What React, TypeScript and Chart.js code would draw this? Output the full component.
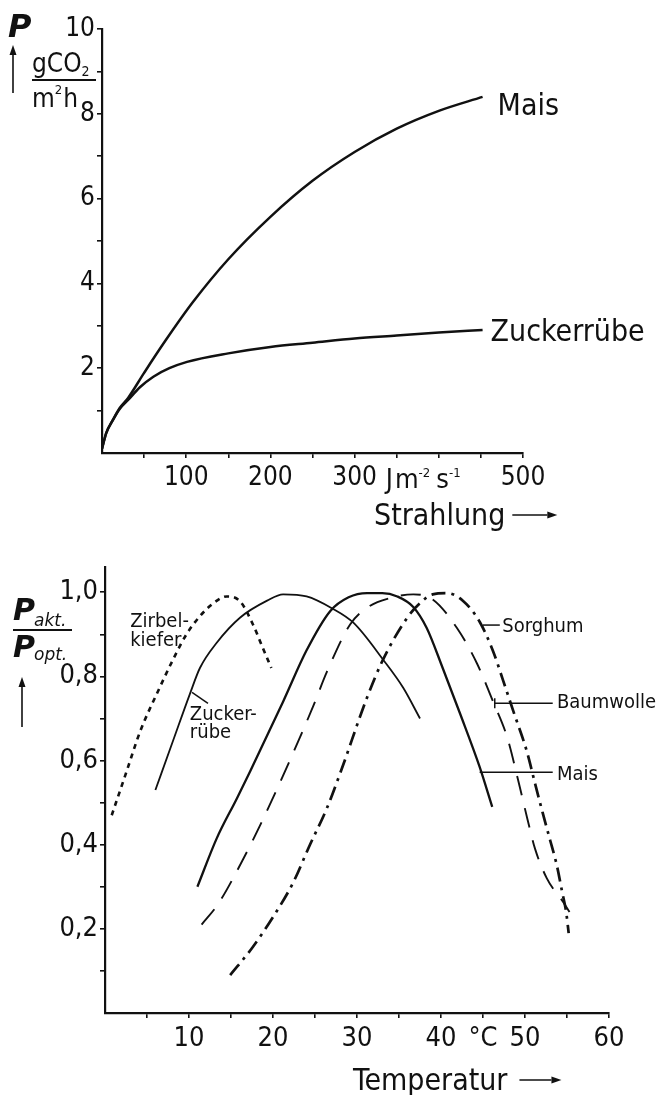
import React, { useEffect, useRef } from 'react';
import { Chart, registerables } from 'chart.js';

Chart.register(...registerables);

const WORD_FONT = '"DejaVu Sans Condensed", "DejaVu Sans", sans-serif';
const NUM_FONT = '"Liberation Sans Narrow", "DejaVu Sans Condensed", sans-serif';
const INK = '#111';

// ---------- Top chart: P vs Strahlung ----------
const strahlungMais = [0, 5, 13, 21, 31, 50, 75, 108, 150, 200, 250, 300, 350, 400, 452];
const pMais = [0.1, 0.47, 0.78, 1.06, 1.3, 1.89, 2.64, 3.56, 4.57, 5.57, 6.42, 7.1, 7.65, 8.07, 8.4];
const strahlungZucker = [0, 5, 13, 21, 31, 45, 61, 80, 101, 150, 200, 250, 300, 350, 400, 452];
const pZucker = [0.1, 0.47, 0.78, 1.04, 1.25, 1.55, 1.8, 2.0, 2.15, 2.35, 2.5, 2.6, 2.7, 2.77, 2.84, 2.9];
const strahlungTicks = [100, 200, 300, 500];
const pTicks = [2, 4, 6, 8, 10];

// ---------- Bottom chart: Pakt/Popt vs Temperatur ----------
const tZirbel = [0.8, 2.6, 4.2, 6.2, 8.1, 9.7, 11.3, 12.9, 14.5, 16.1, 17.6, 18.8, 19.8];
const vZirbel = [0.47, 0.576, 0.67, 0.76, 0.84, 0.9, 0.943, 0.974, 0.99, 0.978, 0.924, 0.867, 0.82];
const tZucker = [6.0, 8.1, 10.1, 11.3, 13.3, 16.1, 19.3, 21.2, 24, 27, 29.6, 33.1, 35.5, 37.5];
const vZucker = [0.53, 0.647, 0.758, 0.82, 0.88, 0.94, 0.98, 0.995, 0.99, 0.962, 0.927, 0.84, 0.773, 0.7];
const tMais = [11, 13.3, 15.7, 17.3, 21.2, 24, 26.8, 29, 31.2, 33, 34.8, 36.7, 38.3, 40.2, 42.3, 44.6, 46.1];
const vMais = [0.3, 0.415, 0.51, 0.575, 0.74, 0.862, 0.955, 0.988, 0.998, 0.998, 0.99, 0.965, 0.915, 0.82, 0.71, 0.585, 0.49];
const tBaumwolle = [11.5, 13.5, 16.3, 18.8, 22, 24.8, 26.4, 29.2, 31.5, 33.9, 36.7, 39, 41.9, 44.3, 46.2, 47.9, 49.2, 50.3, 51.2, 52.6, 54.5, 55.3];
const vBaumwolle = [0.21, 0.26, 0.36, 0.46, 0.6, 0.73, 0.81, 0.924, 0.967, 0.986, 0.995, 0.983, 0.915, 0.83, 0.74, 0.654, 0.552, 0.46, 0.39, 0.32, 0.265, 0.24];
const tSorghum = [14.9, 17.6, 20, 22.4, 24.4, 26.4, 28, 31.2, 33.1, 36, 37.5, 39, 40.7, 42.6, 44.6, 46.2, 47.4, 48.6, 50.2, 51.2, 52.1, 53, 53.8, 54.4, 54.9, 55.2];
const vSorghum = [0.09, 0.157, 0.228, 0.31, 0.4, 0.486, 0.57, 0.75, 0.84, 0.94, 0.974, 0.995, 0.998, 0.98, 0.93, 0.86, 0.79, 0.718, 0.623, 0.545, 0.476, 0.41, 0.35, 0.29, 0.24, 0.19];
const tempTicks = [10, 20, 30, 40, 50, 60];
const relTicks = [2, 4, 6, 8, 10]; // tenths

const pts = (xs: number[], ys: number[]) => xs.map((x, i) => ({ x, y: ys[i] }));

const fixY = (w: number) => (s: any) => { s.width = w; s.paddingTop = 0; s.paddingBottom = 0; };
const fixX = (h: number) => (s: any) => { s.height = h; s.paddingLeft = 0; s.paddingRight = 0; };

const tickGrid = {
  drawOnChartArea: false,
  drawTicks: true,
  tickLength: 5,
  lineWidth: 1.6,
  color: (c: any) => (c.tick && c.tick.value === 0 ? 'rgba(0,0,0,0)' : INK),
};
const axisBorder = { display: true, color: INK, width: 2.2 };

function line(ctx: CanvasRenderingContext2D, x1: number, y1: number, x2: number, y2: number, w = 1.6) {
  ctx.save();
  ctx.strokeStyle = INK;
  ctx.lineWidth = w;
  ctx.beginPath();
  ctx.moveTo(x1, y1);
  ctx.lineTo(x2, y2);
  ctx.stroke();
  ctx.restore();
}

function arrow(ctx: CanvasRenderingContext2D, x1: number, y1: number, x2: number, y2: number) {
  const a = Math.atan2(y2 - y1, x2 - x1);
  const hl = 10, hw = 3.5;
  const bx = x2 - hl * Math.cos(a), by = y2 - hl * Math.sin(a);
  line(ctx, x1, y1, bx, by, 1.6);
  ctx.save();
  ctx.fillStyle = INK;
  ctx.beginPath();
  ctx.moveTo(x2, y2);
  ctx.lineTo(bx + hw * Math.sin(a), by - hw * Math.cos(a));
  ctx.lineTo(bx - hw * Math.sin(a), by + hw * Math.cos(a));
  ctx.closePath();
  ctx.fill();
  ctx.restore();
}

function txt(ctx: CanvasRenderingContext2D, s: string, x: number, y: number, font: string) {
  ctx.font = font;
  ctx.fillStyle = INK;
  ctx.textAlign = 'left';
  ctx.textBaseline = 'alphabetic';
  ctx.fillText(s, x, y);
  return x + ctx.measureText(s).width;
}

const topPlugin = {
  id: 'topLabels',
  afterDraw(chart: any) {
    const ctx: CanvasRenderingContext2D = chart.ctx;
    const xs = chart.scales.x, ys = chart.scales.y;
    ctx.save();
    // series labels
    const mEnd = { x: xs.getPixelForValue(strahlungMais[strahlungMais.length - 1]), y: ys.getPixelForValue(pMais[pMais.length - 1]) };
    txt(ctx, 'Mais', mEnd.x + 15, mEnd.y + 18, `30px ${WORD_FONT}`);
    const zEnd = { x: xs.getPixelForValue(strahlungZucker[strahlungZucker.length - 1]), y: ys.getPixelForValue(pZucker[pZucker.length - 1]) };
    txt(ctx, 'Zuckerrübe', zEnd.x + 8, zEnd.y + 11, `30px ${WORD_FONT}`);
    // unit in place of 400
    const ux = xs.getPixelForValue(400) - 53;
    const uy = 488;
    let cx = txt(ctx, 'J', ux, uy, `27px ${WORD_FONT}`);
    cx = txt(ctx, 'm', cx + 2, uy, `27px ${WORD_FONT}`);
    cx = txt(ctx, '-2', cx, uy - 11, `13px ${WORD_FONT}`);
    cx = txt(ctx, 's', cx + 6, uy, `27px ${WORD_FONT}`);
    txt(ctx, '-1', cx, uy - 11, `13px ${WORD_FONT}`);
    // y-axis title
    txt(ctx, 'P', 8, 37, `italic bold 32px "DejaVu Sans", sans-serif`);
    arrow(ctx, 13, 93, 13, 45);
    let gx = txt(ctx, 'gCO', 32, 72, `26px ${WORD_FONT}`);
    txt(ctx, '2', gx, 76, `14px ${WORD_FONT}`);
    line(ctx, 32, 80, 96, 80, 2);
    let mx = txt(ctx, 'm', 32, 107, `26px ${WORD_FONT}`);
    mx = txt(ctx, '2', mx, 94, `13px ${WORD_FONT}`);
    txt(ctx, 'h', mx + 1, 107, `26px ${WORD_FONT}`);
    // x-axis title
    const sx = txt(ctx, 'Strahlung', 374, 525, `30px ${WORD_FONT}`);
    arrow(ctx, sx + 7, 515, sx + 52, 515);
    ctx.restore();
  },
};

const BOTTOM_TOP = 545;

// annotations for bottom chart in data units [T, v]
const leaderZucker = [[10.36, 0.762], [12.26, 0.736]];
const leaderSorghum = [[45.0, 0.922], [47.0, 0.922]];
const leaderBaumwolle = [[46.4, 0.736], [53.3, 0.736]];
const leaderMais = [[44.6, 0.572], [53.3, 0.572]];

const bottomPlugin = {
  id: 'bottomLabels',
  afterDraw(chart: any) {
    const ctx: CanvasRenderingContext2D = chart.ctx;
    const xs = chart.scales.x, ys = chart.scales.y;
    const X = (t: number) => xs.getPixelForValue(t);
    const Y = (v: number) => ys.getPixelForValue(v);
    const f = `20px ${WORD_FONT}`;
    ctx.save();
    txt(ctx, 'Zirbel-', X(3.0), Y(0.917), f);
    txt(ctx, 'kiefer', X(3.0), Y(0.872), f);
    txt(ctx, 'Zucker-', X(10.1), Y(0.696), f);
    txt(ctx, 'rübe', X(10.1), Y(0.653), f);
    line(ctx, X(leaderZucker[0][0]), Y(leaderZucker[0][1]), X(leaderZucker[1][0]), Y(leaderZucker[1][1]), 1.5);
    line(ctx, X(leaderSorghum[0][0]), Y(leaderSorghum[0][1]), X(leaderSorghum[1][0]), Y(leaderSorghum[1][1]), 1.5);
    txt(ctx, 'Sorghum', X(47.3), Y(0.905), f);
    line(ctx, X(leaderBaumwolle[0][0]), Y(leaderBaumwolle[0][1]), X(leaderBaumwolle[1][0]), Y(leaderBaumwolle[1][1]), 1.5);
    line(ctx, X(leaderBaumwolle[0][0]), Y(leaderBaumwolle[0][1]) - 5, X(leaderBaumwolle[0][0]), Y(leaderBaumwolle[0][1]) + 5, 1.5);
    txt(ctx, 'Baumwolle', X(53.8), Y(0.724), f);
    line(ctx, X(leaderMais[0][0]), Y(leaderMais[0][1]), X(leaderMais[1][0]), Y(leaderMais[1][1]), 1.5);
    txt(ctx, 'Mais', X(53.8), Y(0.553), f);
    // y-axis title (fraction)
    const o = BOTTOM_TOP;
    let px = txt(ctx, 'P', 13, 620 - o, `italic bold 30px "DejaVu Sans", sans-serif`);
    txt(ctx, 'akt.', px - 1, 626 - o, `italic 17px "DejaVu Sans", sans-serif`);
    line(ctx, 13, 630 - o, 72, 630 - o, 2);
    px = txt(ctx, 'P', 13, 657 - o, `italic bold 30px "DejaVu Sans", sans-serif`);
    txt(ctx, 'opt.', px - 1, 660 - o, `italic 17px "DejaVu Sans", sans-serif`);
    arrow(ctx, 22, 727 - o, 22, 677 - o);
    // x-axis title
    const tx = txt(ctx, 'Temperatur', 353, 1090 - o, `30px ${WORD_FONT}`);
    arrow(ctx, tx + 12, 1080 - o, tx + 54, 1080 - o);
    ctx.restore();
  },
};

function ds(xs: number[], ys: number[], width: number, dash: number[]) {
  return {
    data: pts(xs, ys),
    borderColor: INK,
    borderWidth: width,
    borderDash: dash,
    borderCapStyle: 'butt' as const,
    pointRadius: 0,
    fill: false,
    cubicInterpolationMode: 'monotone' as const,
  };
}

export default function App() {
  const topRef = useRef<HTMLCanvasElement>(null);
  const botRef = useRef<HTMLCanvasElement>(null);

  useEffect(() => {
    const top = new Chart(topRef.current!, {
      type: 'line',
      data: {
        datasets: [
          ds(strahlungMais, pMais, 2.5, []),
          ds(strahlungZucker, pZucker, 2.5, []),
        ],
      },
      options: {
        responsive: false,
        animation: false,
        events: [],
        layout: { padding: { left: 0, top: 29, right: 133, bottom: 32 } },
        plugins: { legend: { display: false }, tooltip: { enabled: false }, title: { display: false } },
        scales: {
          x: {
            type: 'linear', min: 0, max: 500,
            afterFit: fixX(60),
            border: axisBorder,
            grid: tickGrid as any,
            ticks: {
              stepSize: 50, autoSkip: false, maxRotation: 0, padding: 5, color: INK,
              font: { family: NUM_FONT, size: 26 },
              callback: (v: any) => (strahlungTicks.includes(Number(v)) ? String(v) : ''),
            },
          },
          y: {
            type: 'linear', min: 0, max: 10,
            afterFit: fixY(102),
            border: axisBorder,
            grid: tickGrid as any,
            ticks: {
              stepSize: 1, autoSkip: false, padding: 2, color: INK,
              font: { family: NUM_FONT, size: 26 },
              callback: (v: any) => (pTicks.includes(Number(v)) ? String(v) : ''),
            },
          },
        },
      },
      plugins: [topPlugin],
    });

    const bot = new Chart(botRef.current!, {
      type: 'line',
      data: {
        datasets: [
          ds(tZirbel, vZirbel, 2.6, [5, 5]),
          ds(tZucker, vZucker, 1.8, []),
          ds(tMais, vMais, 2.3, []),
          ds(tBaumwolle, vBaumwolle, 1.9, [20, 13]),
          ds(tSorghum, vSorghum, 2.7, [14, 6, 3, 6]),
        ],
      },
      options: {
        responsive: false,
        animation: false,
        events: [],
        layout: { padding: { left: 0, top: 22, right: 47, bottom: 22 } },
        plugins: { legend: { display: false }, tooltip: { enabled: false }, title: { display: false } },
        scales: {
          x: {
            type: 'linear', min: 0, max: 60,
            afterFit: fixX(60),
            border: axisBorder,
            grid: tickGrid as any,
            ticks: {
              stepSize: 5, autoSkip: false, maxRotation: 0, padding: 5, color: INK,
              font: { family: NUM_FONT, size: 27 },
              callback: (v: any) => {
                const n = Number(v);
                if (n === 45) return '°C';
                return tempTicks.includes(n) ? String(n) : '';
              },
            },
          },
          y: {
            type: 'linear', min: 0, max: 1.06,
            afterFit: fixY(105),
            border: axisBorder,
            grid: tickGrid as any,
            ticks: {
              stepSize: 0.1, includeBounds: false, autoSkip: false, padding: 2, color: INK,
              font: { family: NUM_FONT, size: 27 },
              callback: (v: any) => {
                const r = Math.round(Number(v) * 10);
                if (!relTicks.includes(r)) return '';
                return r === 10 ? '1,0' : '0,' + r;
              },
            },
          },
        },
      },
      plugins: [bottomPlugin],
    });

    return () => {
      top.destroy();
      bot.destroy();
    };
  }, []);

  return (
    <div style={{ position: 'absolute', left: 0, top: 0, width: 656, height: 1095, background: '#fff' }}>
      <canvas ref={topRef} width={656} height={545} style={{ position: 'absolute', left: 0, top: 0, display: 'block' }} />
      <canvas ref={botRef} width={656} height={550} style={{ position: 'absolute', left: 0, top: BOTTOM_TOP, display: 'block' }} />
    </div>
  );
}
